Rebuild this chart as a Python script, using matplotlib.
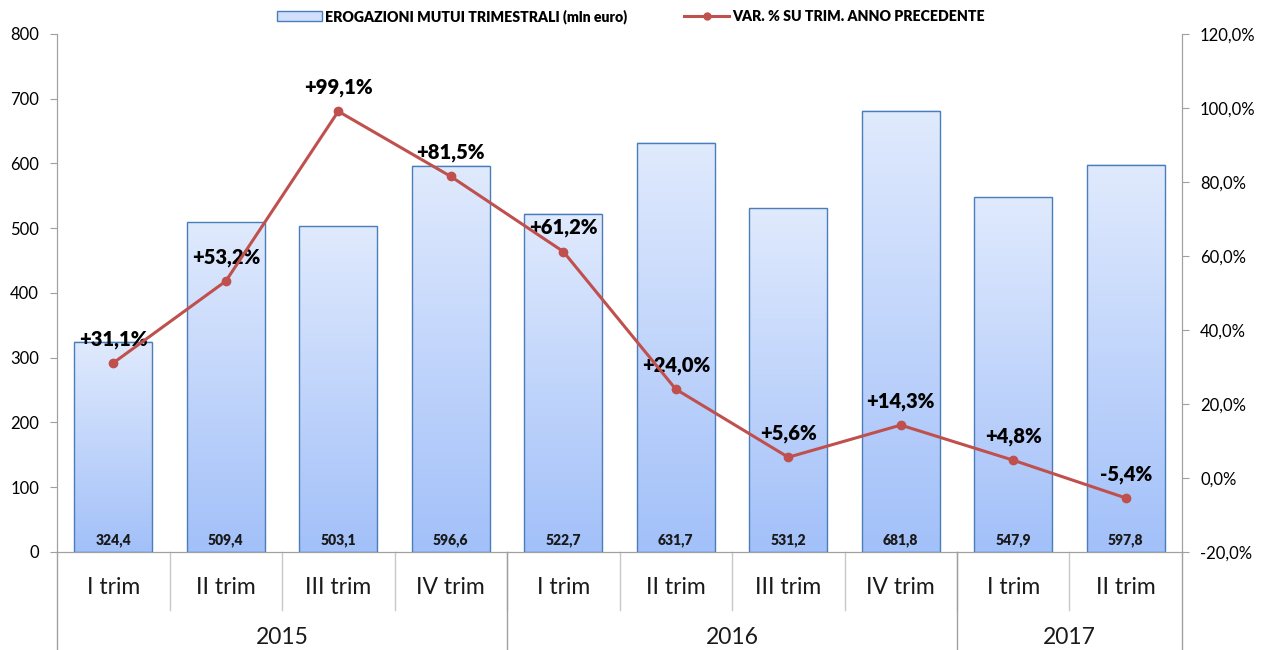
import numpy as np
import matplotlib
matplotlib.use("Agg")
import matplotlib.pyplot as plt
from matplotlib.colors import LinearSegmentedColormap
from matplotlib.patches import Rectangle
from matplotlib.lines import Line2D

plt.rcParams["font.family"] = ["Lato", "DejaVu Sans"]

# dati
quarters = ["I trim", "II trim", "III trim", "IV trim",
            "I trim", "II trim", "III trim", "IV trim",
            "I trim", "II trim"]
years = ["2015", "2016", "2017"]
year_span = [4, 4, 2]
erogazioni = [324.4, 509.4, 503.1, 596.6, 522.7, 631.7, 531.2, 681.8, 547.9, 597.8]
var_pct = [31.1, 53.2, 99.1, 81.5, 61.2, 24.0, 5.6, 14.3, 4.8, -5.4]

def fmt_it(v, dec=1):
    return f"{v:.{dec}f}".replace(".", ",")

fig = plt.figure(figsize=(12.62, 6.5), dpi=100)
ax = fig.add_axes([0.0452, 0.1508, 0.8914, 0.7969])
ax2 = ax.twinx()

x = np.arange(len(quarters))
bw = 0.69
cmap = LinearSegmentedColormap.from_list("g", ["#a2c0f9", "#e0eafd"])
grad = np.linspace(0, 1, 256).reshape(-1, 1)
bars = ax.bar(x, erogazioni, width=bw, color="none", edgecolor="#4a7ebb", linewidth=1.0, zorder=3)
for b in bars:
    x0, w, h = b.get_x(), b.get_width(), b.get_height()
    ax.imshow(grad, extent=[x0, x0 + w, 0, h], origin="lower", cmap=cmap,
              aspect="auto", zorder=2)
    ax.text(x0 + w / 2, 18, fmt_it(h), ha="center", va="center",
            fontsize=10, fontweight="heavy", color="#1a1a1a", zorder=4)

ax.set_xlim(-0.5, len(quarters) - 0.5)
ax.set_ylim(0, 800)
ax.set_yticks(range(0, 801, 100))
ax.tick_params(axis="y", labelsize=12, length=5, color="#a0a0a0", pad=8)
ax.tick_params(axis="x", length=0, labelbottom=False)

ax2.plot(x, var_pct, color="#c0504d", linewidth=2.2, marker="o", markersize=6, zorder=5)
ax2.set_ylim(-20, 120)
ax2.set_yticks(range(-20, 121, 20))
ax2.set_yticklabels([fmt_it(v) + "%" for v in range(-20, 121, 20)])
ax2.tick_params(axis="y", labelsize=12, length=5, color="#a0a0a0", pad=8)
for xi, v in zip(x, var_pct):
    s = ("+" if v >= 0 else "") + fmt_it(v) + "%"
    ax2.annotate(s, (xi, v), xytext=(0, 17), textcoords="offset points",
                 ha="center", va="center", fontsize=14.5, fontweight="heavy", color="black")

for a in (ax, ax2):
    a.spines["top"].set_visible(False)
    for sp in ["left", "right", "bottom"]:
        a.spines[sp].set_color("#a0a0a0")

# assi categorie a due livelli
trans = ax.get_xaxis_transform()
for i, q in enumerate(quarters):
    ax.text(i, -0.068, q, transform=trans, ha="center", va="center", fontsize=16.5, color="#1a1a1a")
for i in range(len(quarters) - 1):
    ax.plot([i + 0.5, i + 0.5], [0, -0.112], transform=trans, color="#c8c8c8",
            linewidth=1, clip_on=False)
start = 0
for yr, n in zip(years, year_span):
    ax.text(start + n / 2 - 0.5, -0.165, yr, transform=trans, ha="center", va="center",
            fontsize=16.5, color="#1a1a1a")
    start += n
    ax.plot([start - 0.5, start - 0.5], [0, -0.19], transform=trans, color="#a0a0a0",
            linewidth=1, clip_on=False)
ax.plot([-0.5, -0.5], [0, -0.19], transform=trans, color="#a0a0a0", linewidth=1, clip_on=False)

handles = [Rectangle((0, 0), 1, 1, facecolor="#cfdffc", edgecolor="#4a7ebb"),
           Line2D([], [], color="#c0504d", linewidth=2.2, marker="o", markersize=5)]
fig.legend(handles, ["EROGAZIONI MUTUI TRIMESTRALI (mln euro)", "VAR. % SU TRIM. ANNO PRECEDENTE"],
           loc="center", bbox_to_anchor=(0.5, 0.975), ncol=2, frameon=False,
           prop={"size": 10.2, "weight": "heavy"}, columnspacing=4, handlelength=3.2,
           handletextpad=0.2)

fig.savefig("out.png", dpi=100)
